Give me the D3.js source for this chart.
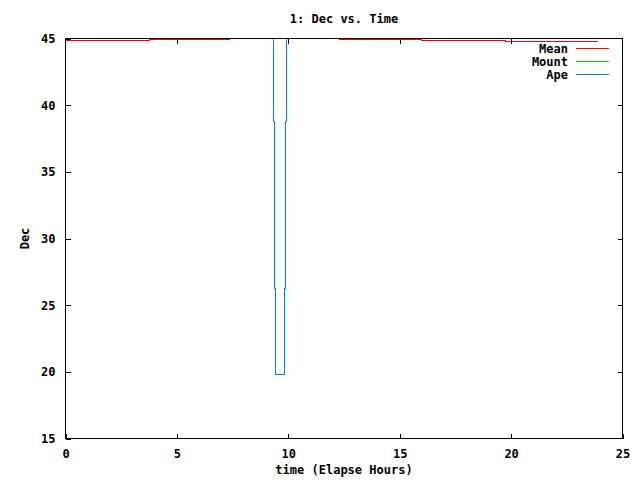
<!DOCTYPE html>
<html>
<head>
<meta charset="utf-8">
<script src="https://cdn.jsdelivr.net/npm/d3@7"></script>
<style>
  html, body { margin: 0; padding: 0; background: #fff; }
  svg { display: block; }
  text { font-family: "DejaVu Sans Mono", "Liberation Mono", monospace; font-weight: bold; font-size: 12px; fill: #000; }
</style>
</head>
<body>
<script>
// ---- data ----
const title = "1: Dec vs. Time";
const xLabel = "time (Elapse Hours)";
const yLabel = "Dec";
const xTicks = [0, 5, 10, 15, 20, 25];
const yTicks = [15, 20, 25, 30, 35, 40, 45];
const seriesNames = ["Mean", "Mount", "Ape"];
const seriesColors = ["#ff0000", "#00c000", "#0080ff"];

// Mean (hours, degrees); null = not shown (above the top of the plot)
const meanTime = [0.00, 3.79, 3.79, 7.38, 7.38, 12.28, 12.28, 15.96, 15.96, 19.73, 19.73, 23.90];
const meanDec  = [44.85, 44.85, 44.92, 44.92, null, null, 44.92, 44.92, 44.85, 44.85, 44.78, 44.78];

// Mount sits above the top of the plot (clipped away)
const mountTime = [0.00, 4.00, 8.00, 12.00, 16.00, 20.00, 23.90];
const mountDec  = [45.20, 45.20, 45.20, 45.20, 45.20, 45.20, 45.20];

// Ape: sharp dip near 9.3 - 9.9 h
const apeTime = [0.00, 9.34, 9.34, 9.38, 9.38, 9.43, 9.43, 9.83, 9.83, 9.87, 9.87, 9.92, 9.92, 23.90];
const apeDec  = [46.00, 46.00, 38.78, 38.78, 26.25, 26.25, 19.80, 19.80, 26.25, 26.25, 38.78, 38.78, 46.00, 46.00];

// ---- layout ----
const W = 640, H = 480;
const L = 65.5, R = 622.5, T = 38.5, B = 438.5;

const svg = d3.select("body").append("svg").attr("width", W).attr("height", H);

const x = d3.scaleLinear().domain([0, 25]).range([L, R]);
const y = d3.scaleLinear().domain([15, 45]).range([B, T]);

svg.append("defs").append("clipPath").attr("id", "clip")
  .append("rect").attr("x", L).attr("y", T).attr("width", R - L).attr("height", B - T);

// axes (gnuplot style: inward ticks, mirrored)
function styleAxis(g) {
  g.select(".domain").remove();
  g.selectAll("line").attr("stroke", "#000").attr("shape-rendering", "crispEdges");
  g.selectAll("text").attr("font-size", null).attr("font-family", null).attr("fill", "#000");
}
svg.append("g").attr("transform", `translate(0,${B})`)
  .call(d3.axisBottom(x).tickValues(xTicks).tickSize(-5).tickPadding(11).tickFormat(d3.format("d")))
  .call(styleAxis);
svg.append("g").attr("transform", `translate(0,${T})`)
  .call(d3.axisTop(x).tickValues(xTicks.slice(1, -1)).tickSize(-5).tickFormat(""))
  .call(styleAxis);
svg.append("g").attr("transform", `translate(${L},0)`)
  .call(d3.axisLeft(y).tickValues(yTicks).tickSize(-5).tickPadding(10).tickFormat(d3.format("d")))
  .call(styleAxis);
svg.append("g").attr("transform", `translate(${R},0)`)
  .call(d3.axisRight(y).tickValues(yTicks.slice(1, -1)).tickSize(-5).tickFormat(""))
  .call(styleAxis);

// border
svg.append("rect").attr("x", L).attr("y", T).attr("width", R - L).attr("height", B - T)
  .attr("fill", "none").attr("stroke", "#000").attr("shape-rendering", "crispEdges");

// lines
const line = d3.line()
  .defined(d => d[1] !== null)
  .x(d => x(d[0])).y(d => y(d[1]));
const series = [
  d3.zip(meanTime, meanDec),
  d3.zip(mountTime, mountDec),
  d3.zip(apeTime, apeDec)
];
const plot = svg.append("g").attr("clip-path", "url(#clip)");
series.forEach((s, i) => {
  plot.append("path").datum(s)
    .attr("d", line)
    .attr("fill", "none")
    .attr("stroke", seriesColors[i])
    .attr("stroke-width", 1)
    .attr("shape-rendering", "crispEdges");
});

// title and axis labels
svg.append("text").attr("x", (L + R) / 2).attr("y", 23).attr("text-anchor", "middle").text(title);
svg.append("text").attr("x", (L + R) / 2).attr("y", 474).attr("text-anchor", "middle").text(xLabel);
svg.append("text").attr("transform", `translate(29,${(T + B) / 2}) rotate(-90)`).attr("text-anchor", "middle").text(yLabel);

// legend
const lg = svg.append("g");
seriesNames.forEach((n, i) => {
  const yy = 48 + i * 13;
  lg.append("text").attr("x", 568).attr("y", yy + 5).attr("text-anchor", "end").text(n);
  lg.append("rect").attr("x", 576).attr("y", yy).attr("width", 33).attr("height", 1)
    .attr("fill", seriesColors[i]).attr("shape-rendering", "crispEdges");
});
</script>
</body>
</html>
